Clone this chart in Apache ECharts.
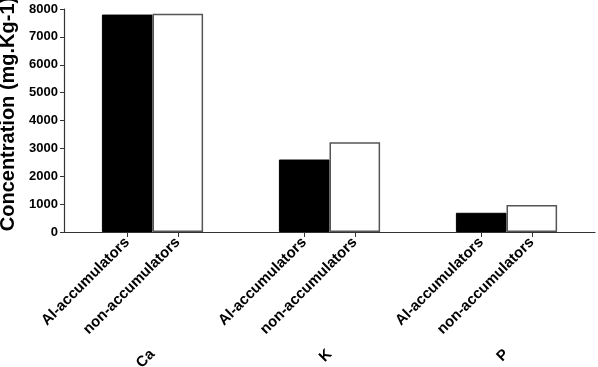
<!DOCTYPE html>
<html>
<head>
<meta charset="utf-8">
<script src="https://cdn.jsdelivr.net/npm/echarts@6/dist/echarts.min.js"></script>
<style>
  html, body { margin: 0; padding: 0; background: #fff; }
  #main { width: 598px; height: 367px; }
</style>
</head>
<body>
<div id="main"></div>
<script>
// 数据
var elements = ["Ca", "K", "P"];
var plantTypes = ["Al-accumulators", "non-accumulators"];
var alAcc = [7800, 2600, 690];
var nonAcc = [7830, 3220, 970];
var yTicks = [0, 1000, 2000, 3000, 4000, 5000, 6000, 7000, 8000];

// 每组分7格, 第2格和第4格放小标签
var SLOTS = 7;
var subCats = [];
var subShow = [];
elements.forEach(function (el, g) {
    for (var s = 0; s < SLOTS; s++) {
        if (s == 2) { subCats.push(plantTypes[0]); subShow.push(g * SLOTS + s); }
        else if (s == 4) { subCats.push(plantTypes[1]); subShow.push(g * SLOTS + s); }
        else subCats.push("");
    }
});

var font = "'Liberation Sans', Arial, Helvetica, sans-serif";
var chart = echarts.init(document.getElementById("main"));
var option = {
    backgroundColor: "#fff",
    animation: false,
    grid: { left: 64, right: 3, top: 9, bottom: 135, containLabel: false, outerBoundsMode: "none" },
    xAxis: [{
        type: "category",
        data: elements,
        axisLine: { show: true, lineStyle: { color: "#333", width: 1.2 } },
        axisTick: { show: false },
        axisLabel: {
            rotate: 45, margin: 120, color: "#000",
            fontSize: 15, fontWeight: "bold", fontFamily: font
        }
    }, {
        type: "category",
        data: subCats,
        position: "bottom",
        axisLine: { show: false },
        axisTick: {
            show: true, alignWithLabel: true, length: 5,
            lineStyle: { color: "#333" },
            interval: function (i) { return subShow.indexOf(i) >= 0; }
        },
        axisLabel: {
            rotate: 45, margin: 8, color: "#000",
            fontSize: 15, fontWeight: "bold", fontFamily: font,
            interval: function (i) { return subShow.indexOf(i) >= 0; }
        }
    }],
    yAxis: {
        type: "value",
        min: yTicks[0], max: yTicks[yTicks.length - 1], interval: 1000,
        name: "Concentration (mg.Kg-1)",
        nameLocation: "middle",
        nameGap: 41,
        nameTextStyle: {
            fontSize: 20, fontWeight: "bold", color: "#000", fontFamily: font,
            padding: [0, 0, 0, 13]
        },
        axisLine: { show: true, lineStyle: { color: "#333", width: 1.2 } },
        axisTick: { show: true, length: 4, lineStyle: { color: "#333" } },
        splitLine: { show: false },
        axisLabel: {
            color: "#000", fontSize: 13, fontWeight: "bold", fontFamily: font, margin: 6,
            formatter: function (v) { return String(v); }
        }
    },
    series: [{
        name: plantTypes[0], type: "bar", xAxisIndex: 0,
        data: alAcc, barWidth: 50.6, barGap: 0,
        itemStyle: { color: "#000", borderColor: "#000", borderWidth: 1 }
    }, {
        name: plantTypes[1], type: "bar", xAxisIndex: 0,
        data: nonAcc, barWidth: 50.6, barGap: 0,
        itemStyle: { color: "#fff", borderColor: "#555", borderWidth: 1.5 }
    }]
};
chart.setOption(option);
</script>
</body>
</html>
